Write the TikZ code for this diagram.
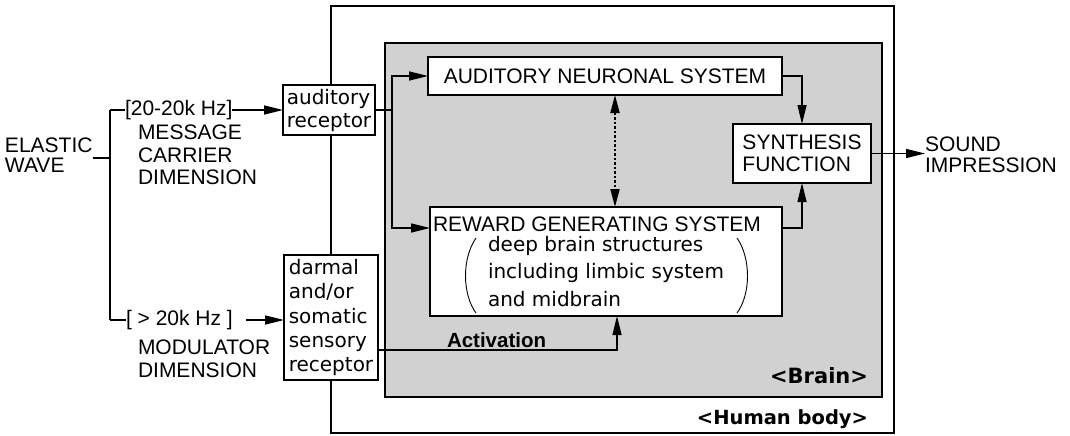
\documentclass[tikz,border=0pt]{standalone}
\usepackage{fontspec}
\setmainfont{Liberation Sans}
\newfontfamily\dvs{DejaVu Sans}
\usetikzlibrary{arrows.meta,calc}
\begin{document}
\begin{tikzpicture}[x=1pt,y=-1pt,
  every node/.style={inner sep=0pt, outer sep=0pt},
  caps/.style={font=\fontsize{21}{22.5}\selectfont, align=left},
  lower/.style={font=\dvs\fontsize{20}{24.3}\selectfont, align=left},
  box/.style={draw, line width=2.8pt, fill=white},
  ln/.style={line width=1.3pt},
  arr/.style={line width=1.3pt, -{Triangle[length=19pt,width=9pt]}},
  dblarr/.style={line width=1.8pt, dash pattern=on 2.5pt off 2pt,
     {Triangle[length=18pt,width=9pt]}-{Triangle[length=18pt,width=9pt]}},
]
\useasboundingbox (0,0) rectangle (1070,436);
% containers
\node[draw, line width=1.3pt, minimum width=563pt, minimum height=427pt, anchor=north west] (body) at (331,6) {};
\node[draw, line width=1.8pt, fill=black!18, minimum width=497pt, minimum height=354pt, anchor=north west] (brain) at (385,43) {};
% boxes
\node[box, lower, minimum width=92pt, minimum height=50pt, font=\dvs\fontsize{20}{23}\selectfont] (aud) at (329,110) {auditory\\receptor};
\node[box, lower, minimum width=94pt, minimum height=125pt] (dar) at (331,317.5) {darmal\\and/or\\somatic\\sensory\\receptor};
\node[box, caps, minimum width=354pt, minimum height=38pt] (ans) at (605,76) {AUDITORY NEURONAL SYSTEM};
\node[box, minimum width=352pt, minimum height=109pt] (rew) at (606,261.5) {};
\node[box, caps, minimum width=138pt, minimum height=59pt, font=\fontsize{21}{22}\selectfont] (syn) at (802,153.5) {SYNTHESIS\\FUNCTION};
% reward contents
\node[caps, anchor=north west] (rt1) at (433,217) {REWARD GENERATING SYSTEM};
\node[lower, anchor=north west, font=\dvs\fontsize{20}{27.5}\selectfont] (rt2) at (488,236) {deep brain structures\\including limbic system\\and midbrain};
\draw[line width=0.9pt] (476,238) .. controls (462,258) and (462,294) .. (476,313);
\draw[line width=0.9pt] (737,238) .. controls (751,258) and (751,294) .. (737,313);
% left side texts
\node[caps, anchor=west, font=\fontsize{21}{19.5}\selectfont] (ela) at (5,155) {ELASTIC\\WAVE};
\node[caps, anchor=west] (f1) at (125,110) {[20-20k Hz]};
\node[caps, anchor=west] (f2) at (126,320) {[ > 20k Hz ]};
\node[caps, anchor=north west] (m1) at (138,125) {MESSAGE\\CARRIER\\DIMENSION};
\node[caps, anchor=north west, font=\fontsize{21}{23}\selectfont] (m2) at (138,340) {MODULATOR\\DIMENSION};
\node[caps, anchor=west, font=\fontsize{21}{20.5}\selectfont] (snd) at (925,155) {SOUND\\IMPRESSION};
\node[font=\bfseries\fontsize{20.5}{22}\selectfont, anchor=south west] (act) at (447,348) {Activation};
\node[font=\dvs\bfseries\fontsize{21}{22}\selectfont, anchor=east] (brl) at (868,376) {<Brain>};
\node[font=\dvs\bfseries\fontsize{19.5}{22}\selectfont, anchor=east] (hbl) at (868,419) {<Human body>};
% bracket
\coordinate (bt) at (110,110);
\coordinate (bb) at (110,320);
\coordinate (split) at (392,110);
\draw[ln] (ela.east |- 0,158) -- (bt |- 0,158);
\draw[ln] (bt) -- (bb);
\draw[ln] (bt) -- (f1.west);
\draw[ln] (bb) -- (f2.west);
\draw[arr] (f1.east) -- (aud.west);
\draw[arr] ($(f2.east)+(13,0)$) -- (dar.west |- f2.east);
% auditory split
\draw[ln] (aud.east) -- (split);
\draw[arr] (split) |- (ans.west);
\draw[arr] (split) |- ($(rew.north west)+(0,21)$);
% to synthesis
\draw[arr] (ans.east) -| (syn.north);
\draw[arr] ($(rew.north east)+(0,21)$) -| (syn.south);
\draw[arr] (syn.east) -- (snd.west |- syn.east);
% dotted
\draw[dblarr] (ans.south -| 615,0) -- (rew.north -| 615,0);
% activation
\draw[arr] ($(dar.south east)+(0,-30)$) -| (rew.south -| 617,0);
\end{tikzpicture}
\end{document}
